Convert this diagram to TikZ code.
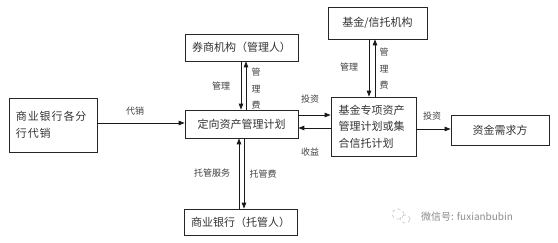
\documentclass[tikz,border=0pt]{standalone}
\usepackage{fontspec}
\setmainfont{Noto Sans CJK SC}
\usetikzlibrary{arrows.meta,shadows}
\begin{document}
\begin{tikzpicture}[x=1pt,y=-1pt,
  box/.style={draw=black!85,line width=0.7pt,fill=white,inner sep=0pt,
    drop shadow={shadow xshift=1.2pt,shadow yshift=-1.2pt,opacity=0.35},
    font=\fontsize{11}{16.5}\selectfont,text=black!80},
  arr/.style={line width=0.9pt,black!90,-{Triangle[length=6pt,width=4.5pt]}},
  lab/.style={font=\fontsize{9}{16.5}\selectfont,text=black!75,inner sep=0pt}]
\useasboundingbox (0,0) rectangle (558,243);
\fill[white] (0,0) rectangle (558,243);
% boxes
\node[box,minimum width=88pt,minimum height=54pt,text width=74pt,align=left] (fh) at (53,125) {\addfontfeatures{LetterSpace=8}商业银行各分\\行代销\\ };
\node[box,minimum width=113pt,minimum height=27pt] (qs) at (241.5,47.5) {券商机构（管理人）};
\node[box,minimum width=113pt,minimum height=28pt] (dx) at (241.5,124) {定向资产管理计划};
\node[box,minimum width=99pt,minimum height=32pt] (jx) at (377.5,23) {基金/信托机构};
\node[box,minimum width=85pt,minimum height=59pt,text width=70pt,align=left] (jz) at (373.5,126.5) {基金专项资产\\管理计划或集\\合信托计划};
\node[box,minimum width=98pt,minimum height=30pt] (zj) at (500,130) {资金需求方};
\node[box,minimum width=113pt,minimum height=26pt] (tg) at (240.5,222) {商业银行（托管人）};
% connectors
\draw[arr] ([yshift=2pt]fh.east) -- ([yshift=2pt]fh.east -| dx.west);
\draw[arr] ([xshift=-0.5pt]qs.south) -- ([xshift=-0.5pt]qs.south |- dx.north);
\draw[arr] ([xshift=4.5pt]dx.north) -- ([xshift=4.5pt]dx.north |- qs.south);
\draw[arr] ([yshift=9pt]dx.east) -- ([yshift=9pt]dx.east -| jz.west);
\draw[arr] ([yshift=-4pt]dx.east -| jz.west) -- ([yshift=-4pt]dx.east);
\draw[arr] ([xshift=-8.5pt]jx.south) -- ([xshift=-8.5pt]jx.south |- jz.north);
\draw[arr] ([xshift=-2.5pt]jx.south |- jz.north) -- ([xshift=-2.5pt]jx.south);
\draw[arr] ([yshift=-2.5pt]jz.east) -- ([yshift=-2.5pt]jz.east -| zj.west);
\draw[arr] ([xshift=-1.5pt]tg.north) -- ([xshift=-1.5pt]tg.north |- dx.south);
\draw[arr] ([xshift=3.5pt]tg.north |- dx.south) -- ([xshift=3.5pt]tg.north);
% labels
\node[lab] (l1) at (135,111) {代销};
\node[lab] (l2) at (221,86) {管理};
\node[lab,align=center] (l3) at (256,89) {管\\理\\费};
\node[lab] (l4) at (310,99) {投资};
\node[lab] (l5) at (310,152) {收益};
\node[lab] (l6) at (349,67) {管理};
\node[lab,align=center] (l7) at (384,69) {管\\理\\费};
\node[lab] (l8) at (432,116) {投资};
\node[lab] (l9) at (212,173) {托管服务};
\node[lab] (l10) at (263,174) {托管费};
% watermark
\node[font=\fontsize{10}{12}\selectfont,text=black!45,anchor=west,inner sep=0pt] (wm) at (421,217) {微信号: fuxianbubin};
\draw[black!25,line width=0.6pt,dashed] (398,214) ellipse (6pt and 5pt);
\draw[black!25,line width=0.6pt,dashed] (405,219) ellipse (5pt and 4pt);
\end{tikzpicture}
\end{document}
